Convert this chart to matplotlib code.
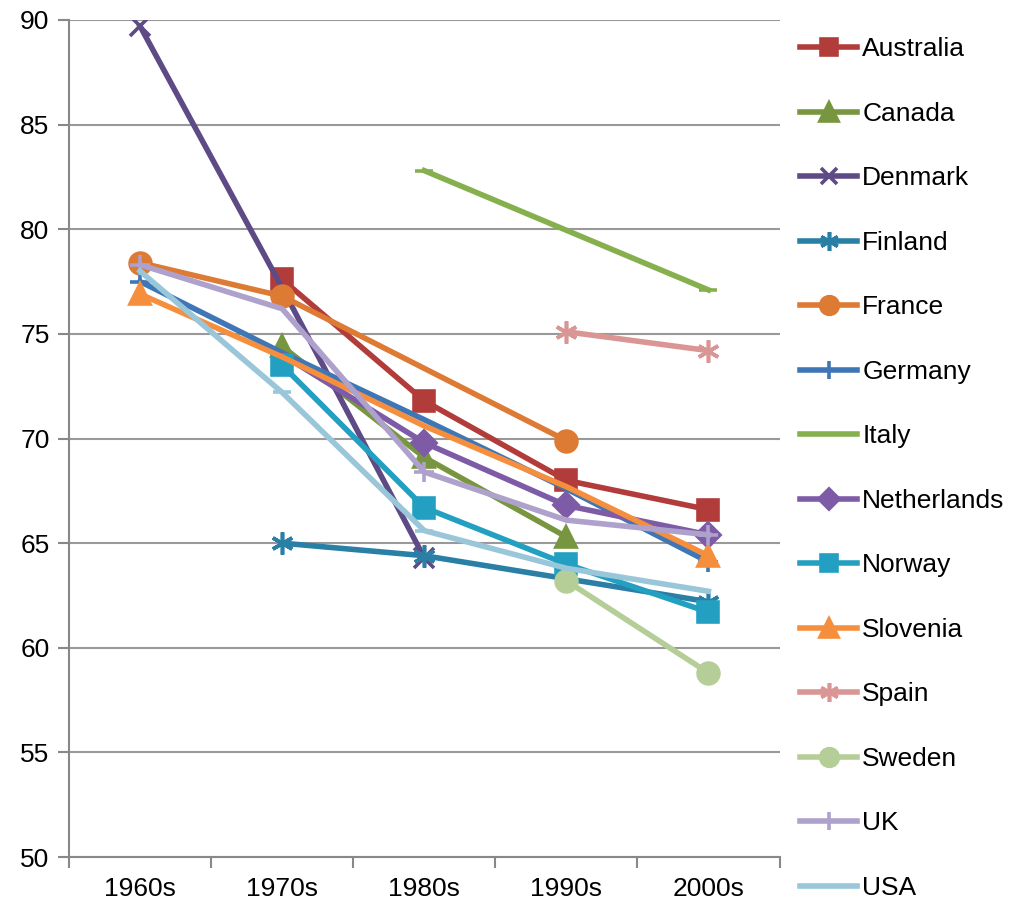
import numpy as np
import matplotlib
matplotlib.use("Agg")
from matplotlib import pyplot as plt

plt.rcParams['font.family'] = ['Liberation Sans', 'DejaVu Sans']

decades = ['1960s', '1970s', '1980s', '1990s', '2000s']
nan = np.nan

# values (nan = no value for that decade)
australia = [nan, 77.6, 71.8, 68.0, 66.6]
canada = [nan, 74.4, 69.1, 65.3, nan]
denmark = [89.7, 77.2, 64.3, nan, nan]
finland = [nan, 65.0, 64.4, 63.3, 62.2]
france = [78.4, 76.8, nan, 69.9, nan]
germany = [77.5, 74.1, 70.9, 67.6, 64.1]
italy = [nan, nan, 82.8, nan, 77.1]
netherlands = [nan, 74.0, 69.8, 66.8, 65.4]
norway = [nan, 73.5, 66.7, 64.0, 61.7]
slovenia = [76.9, 73.9, 70.6, 67.7, 64.4]
spain = [nan, nan, nan, 75.1, 74.2]
sweden = [nan, nan, nan, 63.2, 58.8]
uk = [78.3, 76.2, 68.4, 66.1, 65.4]
usa = [78.0, 72.2, 65.6, 63.8, 62.7]

asterisk = (6, 2, 0)
# name, values, colour, marker, size, which markers show (None = all)
series = [
    ('Australia', australia, '#B23C3A', 's', 14, None),
    ('Canada', canada, '#77963F', '^', 15, None),
    ('Denmark', denmark, '#5E4A85', 'x', 14, [0, 2]),
    ('Finland', finland, '#2A7FA6', asterisk, 16, None),
    ('France', france, '#DD7A33', 'o', 15, None),
    ('Germany', germany, '#3F76B5', '+', 15, [0, 4]),
    ('Italy', italy, '#86B04E', '_', 13, None),
    ('Netherlands', netherlands, '#7D5BA6', 'D', 12, [1, 2, 3]),
    ('Norway', norway, '#23A0C1', 's', 14, None),
    ('Slovenia', slovenia, '#F58F3E', '^', 15, [0, 4]),
    ('Spain', spain, '#D99694', asterisk, 16, None),
    ('Sweden', sweden, '#B5CE98', 'o', 15, None),
    ('UK', uk, '#AEA1CC', '+', 15, [0, 2, 4]),
    ('USA', usa, '#99C6D9', '_', 13, [1, 2]),
]

fig = plt.figure(figsize=(10.15, 9.06), dpi=100)
ax = fig.add_axes([0.068, 0.054, 0.7, 0.924])

x = np.arange(len(decades))
for name, vals, col, mk, ms, every in series:
    v = np.array(vals, dtype=float)
    ok = ~np.isnan(v)
    ax.plot(x[ok], v[ok], color=col, lw=4, marker=mk, ms=ms,
            mew=2.6, mec=col, mfc=col, markevery=every, label=name)

ax.set_xlim(-0.5, 4.5)
ax.set_ylim(50, 90)
ax.set_yticks(np.arange(50, 91, 5))
ax.set_xticks(x)
ax.set_xticklabels(decades)
ax.set_xticks(np.arange(-0.5, 4.6, 1), minor=True)
ax.tick_params(axis='x', which='major', length=0, pad=14, labelsize=19)
ax.tick_params(axis='x', which='minor', length=8, width=1.5, color='#888888')
ax.tick_params(axis='y', length=8, width=1.5, color='#888888', labelsize=19, pad=6)
ax.grid(axis='y', color='#999999', lw=1.5)
ax.set_axisbelow(True)
for s in ['top', 'right']:
    ax.spines[s].set_visible(False)
for s in ['left', 'bottom']:
    ax.spines[s].set_color('#888888')
    ax.spines[s].set_linewidth(1.5)

leg = fig.legend(loc='upper left', bbox_to_anchor=(0.765, 0.985), frameon=False,
                 fontsize=19, handlelength=2.16, handletextpad=0.19,
                 labelspacing=1.535, markerscale=0.85)
# one marker in the middle of each legend line
for h in leg.legend_handles:
    h.set_markevery([1])

plt.savefig('out.png', dpi=100)
